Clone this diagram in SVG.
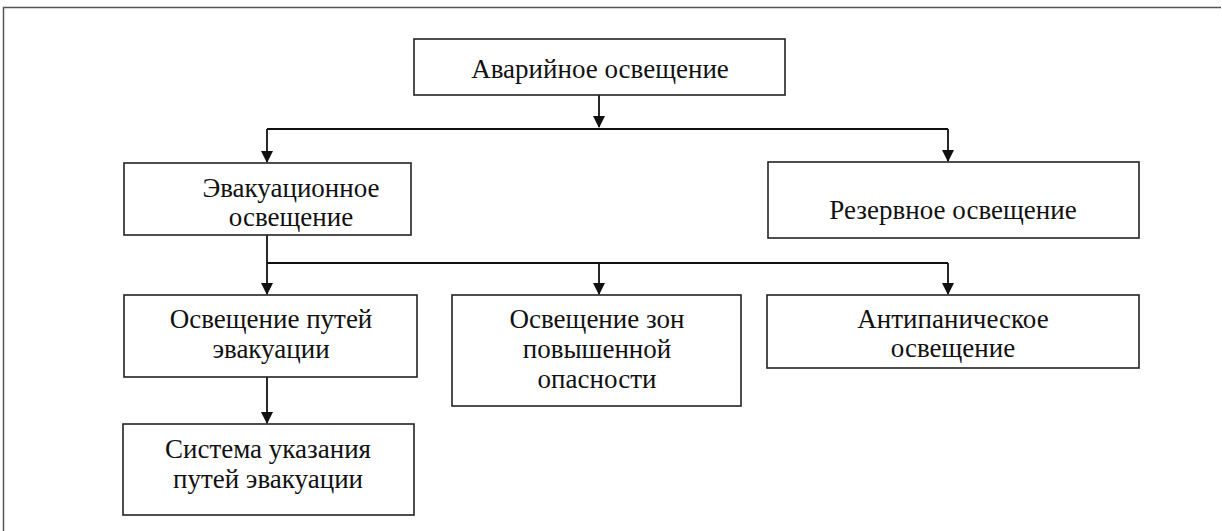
<svg xmlns="http://www.w3.org/2000/svg" width="1222" height="531" viewBox="0 0 1222 531">
<style>
.box{fill:#fff;stroke:#222;stroke-width:1.6}
.t{font-family:'Liberation Serif','DejaVu Serif',serif;font-size:27px;fill:#111;text-anchor:middle}
.c{fill:none;stroke:#111;stroke-width:1.8}
</style>
<defs>
<marker id="ah" markerWidth="12" markerHeight="12" viewBox="0 0 12 12" refX="11" refY="6" orient="auto" markerUnits="userSpaceOnUse">
<path d="M0,0 L12,6 L0,12 Z" fill="#111"/>
</marker>
</defs>
<rect width="1222" height="531" fill="#fff"/>
<path d="M3.5,531 V7.5 H1221" fill="none" stroke="#555" stroke-width="1.5"/>
<g id="connectors">
<path class="c" d="M599,95 V127" marker-end="url(#ah)"/>
<path class="c" d="M267,129 H948"/>
<path class="c" d="M267,129 V162" marker-end="url(#ah)"/>
<path class="c" d="M948,129 V161" marker-end="url(#ah)"/>
<path class="c" d="M267,235 V294" marker-end="url(#ah)"/>
<path class="c" d="M267,263 H948"/>
<path class="c" d="M599,263 V294" marker-end="url(#ah)"/>
<path class="c" d="M948,263 V294" marker-end="url(#ah)"/>
<path class="c" d="M267,377 V423" marker-end="url(#ah)"/>
</g>
<g id="n-emergency">
<rect class="box" x="414" y="39" width="371" height="56"/>
<text class="t" x="600" y="78">Аварийное освещение</text>
</g>
<g id="n-evac">
<rect class="box" x="124" y="163" width="287" height="72"/>
<text class="t" x="291" y="197">Эвакуационное</text>
<text class="t" x="291" y="226">освещение</text>
</g>
<g id="n-reserve">
<rect class="box" x="768" y="162" width="371" height="76"/>
<text class="t" x="953" y="219">Резервное освещение</text>
</g>
<g id="n-paths">
<rect class="box" x="124" y="295" width="293" height="82"/>
<text class="t" x="271" y="328">Освещение путей</text>
<text class="t" x="271" y="358">эвакуации</text>
</g>
<g id="n-zones">
<rect class="box" x="452" y="295" width="289" height="111"/>
<text class="t" x="597" y="328">Освещение зон</text>
<text class="t" x="597" y="358">повышенной</text>
<text class="t" x="597" y="388">опасности</text>
</g>
<g id="n-antipanic">
<rect class="box" x="767" y="295" width="372" height="73"/>
<text class="t" x="953" y="328">Антипаническое</text>
<text class="t" x="953" y="357">освещение</text>
</g>
<g id="n-system">
<rect class="box" x="123" y="424" width="291" height="91"/>
<text class="t" x="268" y="458">Система указания</text>
<text class="t" x="268" y="488">путей эвакуации</text>
</g>
</svg>
